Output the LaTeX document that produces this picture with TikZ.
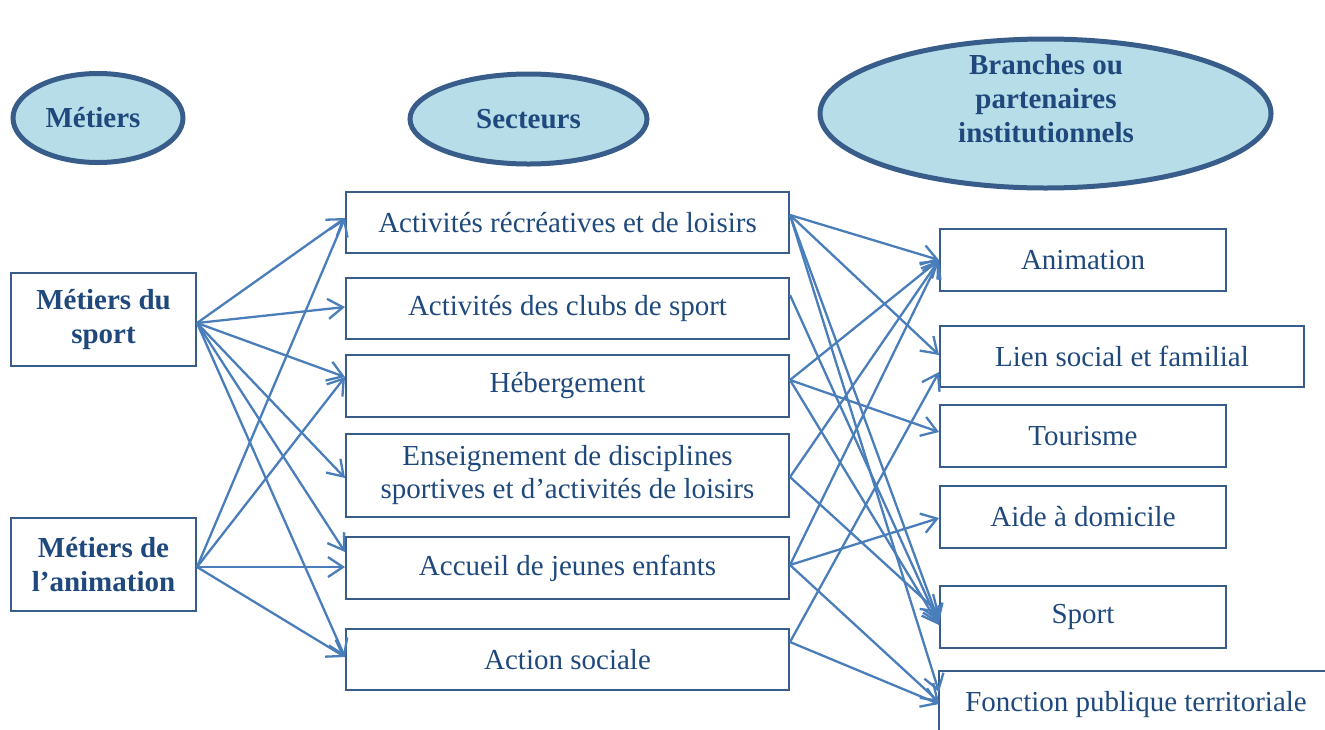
\documentclass[tikz,border=0pt]{standalone}
\usepackage{fontspec}
\setmainfont{Liberation Serif}
\usetikzlibrary{calc,arrows.meta,shapes.geometric}
\definecolor{fillblue}{HTML}{B7DDE8}
\definecolor{ellblue}{HTML}{385D8A}
\definecolor{txtblue}{HTML}{1F497D}
\definecolor{boxblue}{HTML}{385D8A}
\definecolor{arrblue}{HTML}{4A7EBB}
\begin{document}
\begin{tikzpicture}[x=0.5pt,y=-0.5pt,
  ell/.style={ellipse, draw=ellblue, line width=2.5pt, fill=fillblue, inner sep=0pt},
  elltext/.style={text=txtblue, font=\bfseries\fontsize{14.5}{17}\selectfont, align=center, inner sep=0pt},
  box/.style={rectangle, draw=boxblue, line width=1pt, text=txtblue, font=\fontsize{14.5}{16.5}\selectfont, align=center, inner sep=0pt},
  boldbox/.style={box, font=\bfseries\fontsize{14.5}{17}\selectfont},
  midbox/.style={box, minimum width=221.5pt},
  rbox/.style={box, minimum width=143pt, minimum height=31pt},
  boxline/.style={draw=boxblue, line width=1pt},
  link/.style={draw=arrblue, line width=1.15pt, -{Straight Barb[length=7.5pt,width=10pt,line width=1.15pt]}}
]
\useasboundingbox (0,0) rectangle (1325,729);

% header ellipses
\node[ell, minimum width=85pt, minimum height=44.5pt] (hm) at (98,118) {};
\node[elltext] (hmt) at (93,118) {Métiers};
\node[ell, minimum width=118.5pt, minimum height=45pt, elltext] (hs) at (528.5,119) {Secteurs};
\node[ell, minimum width=225.5pt, minimum height=74.5pt] (hb) at (1045.5,113.5) {};
\node[elltext] (hbt) at (1046,99) {Branches ou\\partenaires\\institutionnels};

% left boxes
\node[boldbox, minimum width=92.5pt, minimum height=46.5pt] (ms) at (103.5,319.5) {Métiers du\\sport};
\node[boldbox, minimum width=92.5pt, minimum height=46.5pt] (ma) at (103.5,564.5) {Métiers de\\l’animation};

% middle boxes
\node[midbox, minimum height=30.5pt] (ar) at (567.5,222.5) {Activités récréatives et de loisirs};
\node[midbox, minimum height=30.5pt] (cl) at (567.5,308.5) {Activités des clubs de sport};
\node[midbox, minimum height=31pt] (hg) at (567.5,386) {Hébergement};
\node[midbox, minimum height=41.5pt] (en) at (567.5,475.5) {Enseignement de disciplines\\sportives et d’activités de loisirs};
\node[midbox, minimum height=31pt] (ac) at (567.5,568) {Accueil de jeunes enfants};
\node[midbox, minimum height=30.5pt] (as) at (567.5,659.5) {Action sociale};

% right boxes
\node[rbox] (an) at (1083,260) {Animation};
\node[box, minimum width=182pt, minimum height=30.5pt] (ls) at (1122,356.5) {Lien social et familial};
\node[rbox] (to) at (1083,436) {Tourisme};
\node[rbox] (ai) at (1083,517) {Aide à domicile};
\node[rbox] (sp) at (1083,617) {Sport};
\node[box, draw=none, minimum width=196pt, minimum height=33pt] (fp) at (1136,705) {Fonction publique territoriale};
\draw[boxline] (fp.south west) -- (fp.north west) -- (fp.north east);

% source points
\coordinate (msR) at ($(ms.east)+(0,3.5)$);
\coordinate (maR) at ($(ma.east)+(0,2.5)$);
\coordinate (arR) at ($(ar.east)+(0,-7.5)$);
\coordinate (clR) at ($(cl.east)+(0,-13.5)$);
\coordinate (hgR) at ($(hg.east)+(0,-6)$);
\coordinate (enR) at ($(en.east)+(0,1.5)$);
\coordinate (acR) at ($(ac.east)+(0,-3)$);
\coordinate (asR) at ($(as.east)+(0,-17.5)$);

% Métiers -> Secteurs
\draw[link] (msR) -- ($(ar.west)+(0,-4.5)$);
\draw[link] (msR) -- ($(cl.west)+(0,-1.5)$);
\draw[link] (msR) -- ($(hg.west)+(0,-9)$);
\draw[link] (msR) -- ($(en.west)+(0,2.5)$);
\draw[link] (msR) -- ($(ac.west)+(0,-16)$);
\draw[link] (msR) -- ($(as.west)+(0,-2.5)$);
\draw[link] (maR) -- ($(ar.west)+(0,-4.5)$);
\draw[link] (maR) -- ($(hg.west)+(0,-9)$);
\draw[link] (maR) -- ($(ac.west)+(0,-1)$);
\draw[link] (maR) -- ($(as.west)+(0,-2.5)$);

% Secteurs -> Branches
\draw[link] (arR) -- (an.west);
\draw[link] (arR) -- ($(ls.west)+(0,-1.5)$);
\draw[link] (arR) -- ($(sp.west)+(0,5)$);
\draw[link] (arR) -- ($(fp.north west)+(0,21)$);
\draw[link] (clR) -- ($(sp.west)+(0,7)$);
\draw[link] (hgR) -- (an.west);
\draw[link] (hgR) -- ($(to.west)+(0,-4)$);
\draw[link] (hgR) -- ($(sp.west)+(0,8)$);
\draw[link] (enR) -- (an.west);
\draw[link] (enR) -- ($(sp.west)+(0,-4)$);
\draw[link] (acR) -- (an.west);
\draw[link] (acR) -- ($(ai.west)+(0,1)$);
\draw[link] (acR) -- ($(fp.north west)+(0,31)$);
\draw[link] (asR) -- ($(ls.west)+(0,15.5)$);
\draw[link] (asR) -- ($(fp.north west)+(0,33)$);
\end{tikzpicture}
\end{document}
